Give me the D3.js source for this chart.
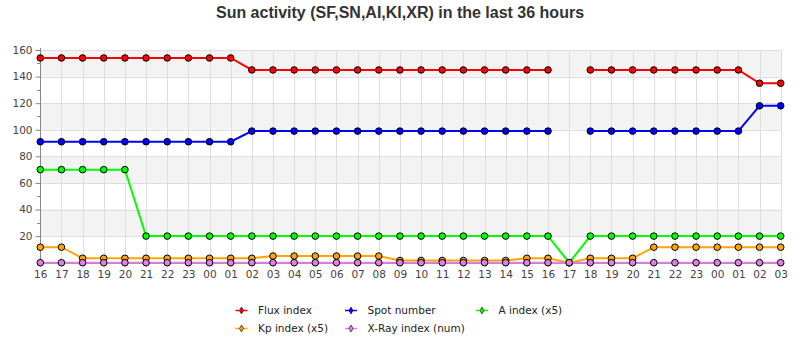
<!DOCTYPE html>
<html><head><meta charset="utf-8">
<script src="https://cdn.jsdelivr.net/npm/d3@7"></script>
<style>body{margin:0;background:#fff}</style>
</head><body>
<svg id="c" width="800" height="350"></svg>
<script>
const hours = ["16","17","18","19","20","21","22","23","00","01","02","03","04","05","06","07","08","09","10","11","12","13","14","15","16","17","18","19","20","21","22","23","00","01","02","03"];
const fluxIndex = [154,154,154,154,154,154,154,154,154,154,145,145,145,145,145,145,145,145,145,145,145,145,145,145,145,null,145,145,145,145,145,145,145,145,135,135];
const spotNumber = [91,91,91,91,91,91,91,91,91,91,99,99,99,99,99,99,99,99,99,99,99,99,99,99,99,null,99,99,99,99,99,99,99,99,118,118];
const aIndex = [70,70,70,70,70,20,20,20,20,20,20,20,20,20,20,20,20,20,20,20,20,20,20,20,20,0,20,20,20,20,20,20,20,20,20,20];
const kpIndex = [11.67,11.67,3.33,3.33,3.33,3.33,3.33,3.33,3.33,3.33,3.33,5,5,5,5,5,5,1.67,1.67,1.67,1.67,1.67,1.67,3.33,3.33,0,3.33,3.33,3.33,11.67,11.67,11.67,11.67,11.67,11.67,11.67];
const xrayIndex = [0,0,0,0,0,0,0,0,0,0,0,0,0,0,0,0,0,0,0,0,0,0,0,0,0,0,0,0,0,0,0,0,0,0,0,0];
const seriesNames = ["Flux index","Spot number","A index (x5)","Kp index (x5)","X-Ray index (num)"];
const seriesColors = ["#ff0000","#0000ff","#00ff00","#ffa500","#e080e0"];
const yTicks = [20,40,60,80,100,120,140,160];
const titleText = "Sun activity (SF,SN,AI,KI,XR) in the last 36 hours";

const svg = d3.select("#c");
const L = 40.3, R = 780.7, T = 50, B = 262.7;
const idx = hours.map((h,i)=>i);
const x = d3.scaleLinear().domain([0, hours.length-1]).range([L, R]);
const y = d3.scaleLinear().domain([0,160]).range([B, T]);

// background bands
const bands = [[140,160],[100,120],[60,80],[20,40]];
svg.append("g").selectAll("rect").data(bands).join("rect")
  .attr("x", L).attr("width", R-L)
  .attr("y", d=>y(d[1])).attr("height", d=>y(d[0])-y(d[1]))
  .attr("fill", "#f3f3f3");

// grid
const grid = svg.append("g").attr("stroke","#dedede").attr("stroke-width",1);
grid.selectAll("line.v").data(idx).join("line")
  .attr("x1", d=>Math.round(x(d))+0.5).attr("x2", d=>Math.round(x(d))+0.5)
  .attr("y1", T).attr("y2", B);
grid.selectAll("line.h").data(yTicks).join("line")
  .attr("x1", L).attr("x2", R)
  .attr("y1", d=>Math.round(y(d))+0.5).attr("y2", d=>Math.round(y(d))+0.5);

// axes
const yAxis = d3.axisLeft(y).tickValues(yTicks).tickSize(5).tickPadding(3);
const gy = svg.append("g").attr("transform", `translate(${Math.round(L)+0.5},0)`).call(yAxis);
gy.select(".domain").attr("stroke","#888").attr("d", `M0,${T-2}V${B}`);
gy.selectAll(".tick line").attr("stroke","#888");
gy.selectAll("text").attr("fill","#444").style("font-family","DejaVu Sans").style("font-size","10.5px");
// minor ticks
const minor = d3.range(0,161,10).filter(v=>v%20!==0).concat([0]);
svg.append("g").selectAll("line").data(minor).join("line")
  .attr("x1", Math.round(L)-3).attr("x2", Math.round(L))
  .attr("y1", d=>Math.round(y(d))+0.5).attr("y2", d=>Math.round(y(d))+0.5)
  .attr("stroke","#888");

const xAxis = d3.axisBottom(x).tickValues(idx).tickFormat(i=>hours[i]).tickSize(3).tickPadding(4);
const gx = svg.append("g").attr("transform", `translate(0,${Math.round(B)+0.5})`).call(xAxis);
gx.select(".domain").attr("stroke","#888").attr("d", `M${L},0H${R}`);
gx.selectAll(".tick line").attr("stroke","#888");
gx.selectAll("text").attr("fill","#444").style("font-family","DejaVu Sans").style("font-size","10.5px");

// series
const allSeries = [fluxIndex, spotNumber, aIndex, kpIndex, xrayIndex];
const line = d3.line().defined(d=>d!=null).x((d,i)=>x(i)).y(d=>y(d));
allSeries.forEach((vals, s) => {
  const g = svg.append("g");
  g.append("path").attr("d", line(vals)).attr("fill","none")
    .attr("stroke", seriesColors[s]).attr("stroke-width", 2);
  g.selectAll("circle").data(vals.map((v,i)=>({v,i})).filter(d=>d.v!=null)).join("circle")
    .attr("cx", d=>x(d.i)).attr("cy", d=>y(d.v)).attr("r", 3.3)
    .attr("fill", seriesColors[s]).attr("stroke","#000").attr("stroke-width",1);
});

// title
svg.append("text").attr("x", 400).attr("y", 18).attr("text-anchor","middle")
  .style("font-family","Liberation Sans, Arial").style("font-weight","bold").style("font-size","16px")
  .attr("fill","#333").text(titleText);

// legend
const legPos = [[241.5,310],[351,310],[482,310],[241.5,328],[351,328]];
const lg = svg.append("g");
seriesNames.forEach((name, s) => {
  const [cx, cy] = legPos[s];
  lg.append("line").attr("x1", cx-6).attr("x2", cx+6).attr("y1", cy+0.5).attr("y2", cy+0.5)
    .attr("stroke", seriesColors[s]).attr("stroke-width",1.5);
  lg.append("path").attr("d", d3.symbol(d3.symbolDiamond, 14)()).attr("transform",`translate(${cx},${cy+0.5})`)
    .attr("fill", seriesColors[s]).attr("stroke","#000").attr("stroke-width",0.6);
  lg.append("text").attr("x", cx+16.5).attr("y", cy+4).attr("fill","#222")
    .style("font-family","DejaVu Sans").style("font-size","10.5px").text(name);
});
</script>
</body></html>
